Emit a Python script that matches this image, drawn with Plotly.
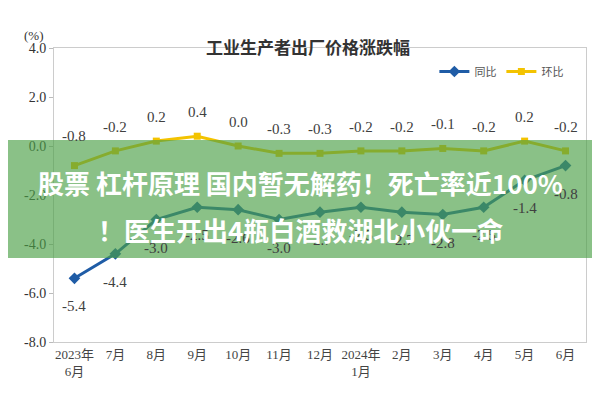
import plotly.graph_objects as go

months = ["2023年<br>6月", "7月", "8月", "9月", "10月", "11月", "12月",
          "2024年<br>1月", "2月", "3月", "4月", "5月", "6月"]
yoy = [-5.4, -4.4, -3.0, -2.5, -2.6, -3.0, -2.7, -2.5, -2.7, -2.8, -2.5, -1.4, -0.8]
mom = [-0.8, -0.2, 0.2, 0.4, 0.0, -0.3, -0.3, -0.2, -0.2, -0.1, -0.2, 0.2, -0.2]
y_ticks = [4.0, 2.0, 0.0, -2.0, -4.0, -6.0, -8.0]

title_text = "工业生产者出厂价格涨跌幅"
banner_lines = ["股票 杠杆原理 国内暂无解药！死亡率近100%", "！医生开出4瓶白酒救湖北小伙一命"]

SERIF = "Liberation Serif, Noto Sans CJK SC, serif"
BLUE = "#1f5ca6"
YELLOW = "#f3c300"

fig = go.Figure()
fig.add_trace(go.Scatter(
    x=months, y=yoy, name="同比", mode="lines+markers",
    line=dict(color=BLUE, width=3),
    marker=dict(symbol="diamond", size=9, color=BLUE),
))
fig.add_trace(go.Scatter(
    x=months, y=mom, name="环比", mode="lines+markers",
    line=dict(color=YELLOW, width=3),
    marker=dict(symbol="square", size=7, color=YELLOW),
))

# data labels
for m, v in zip(months, yoy):
    fig.add_annotation(x=m, y=v, text=f"{v:.1f}", showarrow=False, yshift=-28,
                       font=dict(family=SERIF, size=15, color="#404040"))
for m, v in zip(months, mom):
    fig.add_annotation(x=m, y=v, text=f"{v:.1f}", showarrow=False,
                       yshift=24 if v >= -0.5 else 30,
                       font=dict(family=SERIF, size=15, color="#404040"))

fig.add_annotation(xref="paper", yref="paper", x=0.478, y=1.055, text=f"<b>{title_text}</b>",
                   showarrow=False, font=dict(family="Noto Sans CJK SC", size=17, color="#333333"))
fig.add_annotation(xref="paper", yref="paper", x=-0.06, y=1.075, text="(%)",
                   showarrow=False, font=dict(family=SERIF, size=13, color="#333333"))

# overlay banner
fig.add_shape(type="rect", xref="paper", yref="paper", x0=-0.12, x1=1.04, y0=0.286, y1=0.687,
              fillcolor="rgba(76,160,70,0.65)", line=dict(width=0), layer="above")
for ly, line in zip([0.541, 0.381], banner_lines):
    fig.add_annotation(xref="paper", yref="paper", x=0.464, y=ly, text=f"<b>{line}</b>",
                       showarrow=False, font=dict(family="Noto Sans CJK SC", size=26, color="white"))

# the page body adds an 8px offset, so the figure is sized to fit the 600x400 window
fig.update_layout(
    width=592, height=392,
    margin=dict(l=46, r=14, t=40, b=58),
    paper_bgcolor="white", plot_bgcolor="white",
    showlegend=True,
    legend=dict(orientation="h", x=0.715, y=0.92, xanchor="left", yanchor="middle",
                font=dict(family="Noto Sans CJK SC", size=11, color="#555555"),
                bgcolor="rgba(0,0,0,0)", itemwidth=30, tracegroupgap=0),
    xaxis=dict(type="category", showline=True, linecolor="#cccccc", mirror=True,
               ticks="", showgrid=False, range=[-0.5, 12.5], automargin=False,
               tickfont=dict(family=SERIF, size=13, color="#444444")),
    xaxis2=dict(overlaying="x", anchor="free", position=8 / 12, range=[-0.5, 12.5],
                showline=True, linecolor="#bbbbbb", showticklabels=False, showgrid=False,
                ticks="inside", ticklen=5, tickcolor="#bbbbbb", automargin=False,
                tickvals=[i + 0.5 for i in range(len(months) - 1)], zeroline=False),
    yaxis=dict(range=[-8, 4], tickvals=y_ticks, ticktext=[f"{t:.1f}" for t in y_ticks],
               showgrid=False, zeroline=False, automargin=False,
               showline=True, linecolor="#cccccc", mirror=True,
               ticks="outside", ticklen=4, tickcolor="#bbbbbb",
               tickfont=dict(family=SERIF, size=14, color="#333333")),
)

fig.write_html("out.html")
